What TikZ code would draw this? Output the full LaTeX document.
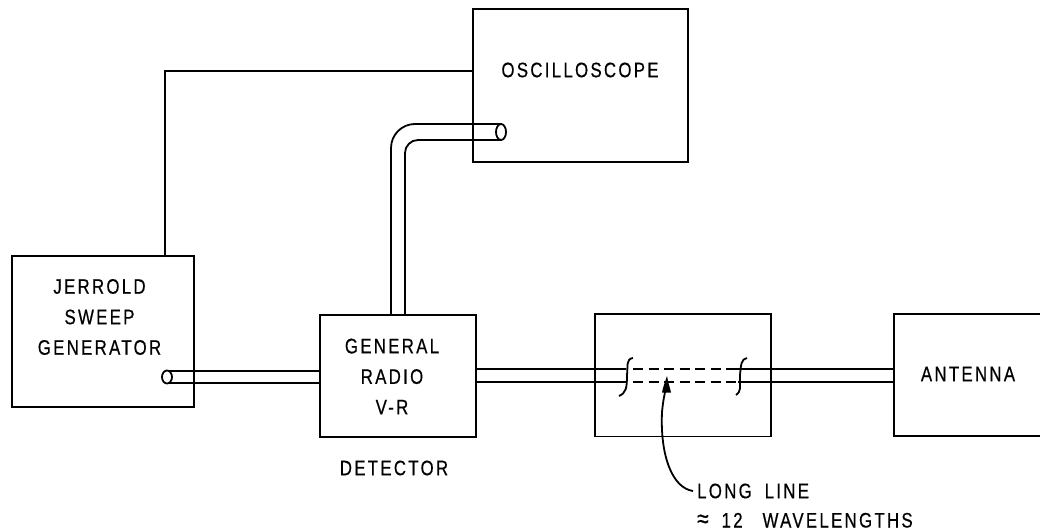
\documentclass[tikz,border=0pt]{standalone}
\usepackage{fontspec}
\setmainfont[LetterSpace=11,FakeStretch=0.8,FakeBold=0.5]{Liberation Sans}
\usetikzlibrary{arrows.meta}
\tikzset{
  wire/.style={draw=black,line width=1.8pt},
  lab/.style={font=\fontsize{21}{30.5}\selectfont,align=center,text=black,inner sep=0pt},
}
\begin{document}
\begin{tikzpicture}[x=1pt,y=-1pt]
\useasboundingbox (0,0) rectangle (1040,532);
% boxes
\draw[wire] (473,9) rectangle (688,162);
\draw[wire] (12,256) rectangle (194,407);
\draw[wire] (320,315) rectangle (476,437);
\draw[wire] (595,314) rectangle (771,436.5);
\draw[wire] (1042,314) -- (894,314) -- (894,436) -- (1042,436);
% named anchors
\coordinate (scopeL) at (473,71);
\coordinate (genT) at (165,256);
% plain wire
\draw[wire] (scopeL) -| (genT);
% detector to oscilloscope cable
\draw[wire] (391,315) -- (391,148) arc[start angle=180,end angle=270,radius=24] -- (501,124);
\draw[wire] (405,315) -- (405,153) arc[start angle=180,end angle=270,radius=13] -- (501,140);
\draw[wire,fill=white] (501,132) ellipse[x radius=5,y radius=8];
% generator to detector cable
\draw[wire] (320,371) -- (167,371);
\draw[wire] (320,383) -- (167,383);
\draw[wire,fill=white] (167,377) ellipse[x radius=5,y radius=6.5];
% long line
\draw[wire] (476,369) -- (626,369);
\draw[wire] (476,382) -- (626,382);
\draw[wire] (894,369) -- (728,369);
\draw[wire] (894,382) -- (738,382);
\draw[wire,dash pattern=on 10pt off 5.5pt] (633,369) -- (728,369);
\draw[wire,dash pattern=on 10pt off 5.5pt] (633,382) -- (738,382);
% break marks
\draw[wire] (633,358) .. controls (626,359) and (628,365) .. (627,375) .. controls (627,388) and (626,393) .. (619,396);
\draw[wire] (747,358) .. controls (741,359) and (741,365) .. (740,375) .. controls (740,388) and (741,392) .. (736,395);
% pointer
\coordinate (tip) at (667,376);
\coordinate (tail) at (693,491);
\draw[line width=1.8pt] (tail) .. controls (672,488) and (660,455) .. (662,412) .. controls (663,402) and (664,396) .. (666,388);
\fill (tip) .. controls (668,382) and (670,388) .. (671,392.5) -- (662,392.5) .. controls (663,387) and (665,382) .. (tip);
% labels
\node[lab] (scope) at (580,70) {OSCILLOSCOPE};
\node[lab] (jerrold) at (99.5,317) {JERROLD\\SWEEP\\GENERATOR};
\node[lab] (gr) at (392,376.5) {GENERAL\\RADIO\\V-R};
\node[lab] (det) at (394,468) {DETECTOR};
\node[lab] (ant) at (968,374) {ANTENNA};
\node[lab,anchor=west] (long) at (697,491) {LONG\hspace{6pt} LINE};
\node[lab,anchor=base west] (wave) at (697,527.5) {{\fontsize{26}{26}\selectfont ≈}\hspace{13pt}12\hspace{20pt}WAVELENGTHS};
\end{tikzpicture}
\end{document}
